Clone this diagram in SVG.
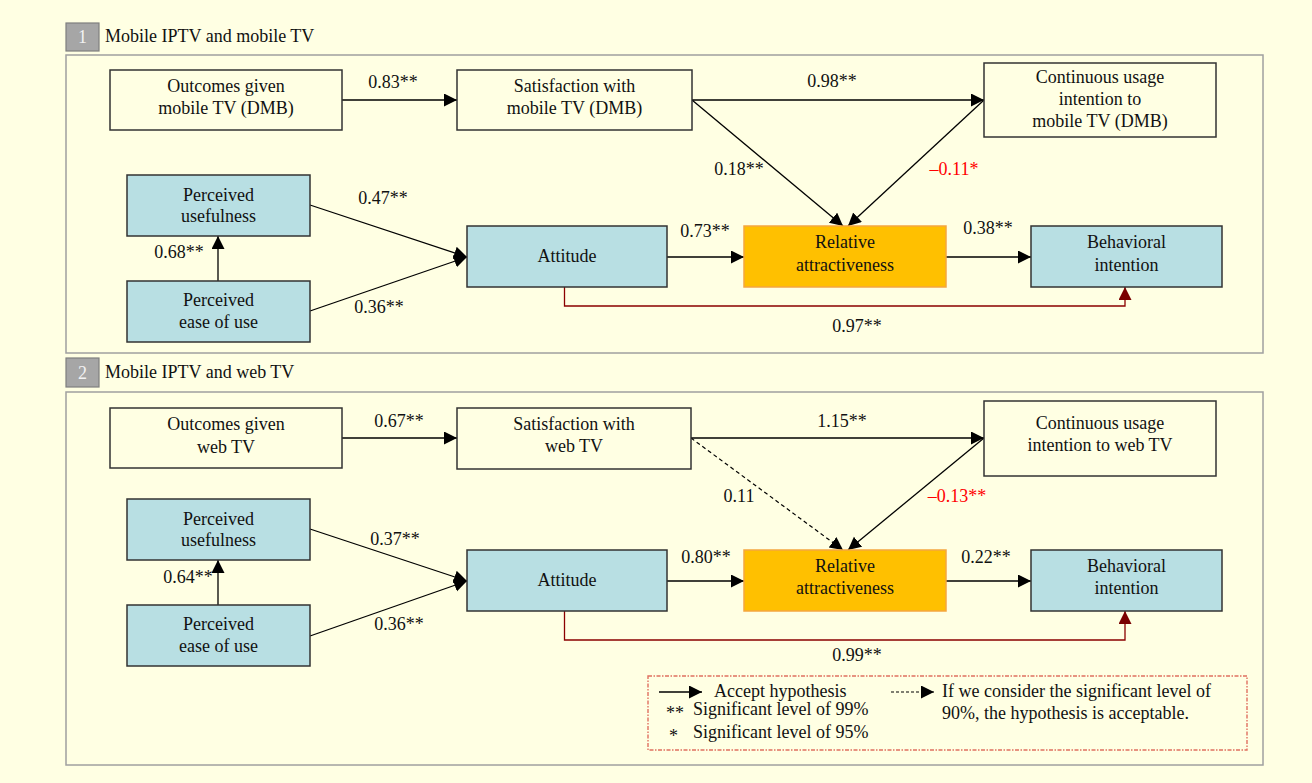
<svg xmlns="http://www.w3.org/2000/svg" width="1312" height="783" viewBox="0 0 1312 783">
<style>
text{font-family:"Liberation Serif","Times New Roman",serif;font-size:18px;fill:#111}
.c{text-anchor:middle}
.red{fill:#FF0000}
.panel{fill:none;stroke:#A0A0A0;stroke-width:1.5}
.tag{fill:#A6A6A6;stroke:#7F7F7F;stroke-width:1.2}
.tagt{fill:#F2F2F2;text-anchor:middle}
.w{fill:#FFFFE3;stroke:#333;stroke-width:1.5}
.b{fill:#B8DFE3;stroke:#333;stroke-width:1.5}
.o{fill:#FFC000;stroke:#F5A640;stroke-width:1.5}
.e{fill:none;stroke:#000;stroke-width:1.3;marker-end:url(#ah)}
.d{fill:none;stroke:#000;stroke-width:1.2;stroke-dasharray:4,3;marker-end:url(#ah)}
.r{fill:none;stroke:#8B0000;stroke-width:1.3;marker-end:url(#ahr)}
</style>
<defs>
<marker id="ah" markerUnits="userSpaceOnUse" markerWidth="14" markerHeight="14" refX="13" refY="6.5" orient="auto"><path d="M0,0 L13,6.5 L0,13 z" fill="#000"/></marker>
<marker id="ahr" markerUnits="userSpaceOnUse" markerWidth="14" markerHeight="14" refX="13" refY="6.5" orient="auto"><path d="M0,0 L13,6.5 L0,13 z" fill="#7A0000"/></marker>
</defs>
<rect x="0" y="0" width="1312" height="783" fill="#FFFFE3"/>

<g id="panel1">
<rect class="tag" x="66" y="23" width="33" height="28"/>
<text class="tagt" x="82.5" y="43">1</text>
<text x="105" y="42">Mobile IPTV and mobile TV</text>
<rect class="panel" x="66" y="55" width="1197" height="298"/>
</g>
<g id="panel2">
<rect class="tag" x="66" y="358" width="33" height="29"/>
<text class="tagt" x="82.5" y="379">2</text>
<text x="105" y="378">Mobile IPTV and web TV</text>
<rect class="panel" x="66" y="392" width="1197" height="373"/>
</g>

<g id="connectors">
<!-- panel 1 -->
<line class="e" x1="342" y1="100" x2="457" y2="100"/>
<line class="e" x1="692" y1="100" x2="984" y2="100"/>
<line class="e" x1="692" y1="100" x2="843" y2="226"/>
<line class="e" x1="984" y1="100" x2="848" y2="226"/>
<line class="e" x1="310" y1="205" x2="467" y2="257"/>
<line class="e" x1="310" y1="311" x2="467" y2="257"/>
<line class="e" x1="218" y1="281" x2="218" y2="236"/>
<line class="e" x1="667" y1="257" x2="744" y2="257"/>
<line class="e" x1="946" y1="257" x2="1031" y2="257"/>
<polyline class="r" points="564.5,287 564.5,306 1125,306 1125,287"/>
<!-- panel 2 -->
<line class="e" x1="342" y1="438" x2="457" y2="438"/>
<line class="e" x1="691" y1="438" x2="984" y2="438"/>
<line class="d" x1="691" y1="438" x2="843" y2="550"/>
<line class="e" x1="984" y1="438" x2="848" y2="550"/>
<line class="e" x1="310" y1="529" x2="467" y2="581"/>
<line class="e" x1="310" y1="636" x2="467" y2="581"/>
<line class="e" x1="218" y1="605" x2="218" y2="560"/>
<line class="e" x1="667" y1="581" x2="744" y2="581"/>
<line class="e" x1="946" y1="581" x2="1031" y2="581"/>
<polyline class="r" points="564.5,611 564.5,640 1125,640 1125,611"/>
</g>

<g id="labels">
<text class="c" x="393" y="88">0.83**</text>
<text class="c" x="832" y="87">0.98**</text>
<text class="c" x="739" y="175">0.18**</text>
<text class="c red" x="954" y="175">–0.11*</text>
<text class="c" x="383" y="204">0.47**</text>
<text class="c" x="379" y="313">0.36**</text>
<text class="c" x="179" y="258">0.68**</text>
<text class="c" x="705" y="237">0.73**</text>
<text class="c" x="988" y="234">0.38**</text>
<text class="c" x="857" y="332">0.97**</text>

<text class="c" x="399" y="427">0.67**</text>
<text class="c" x="842" y="427">1.15**</text>
<text class="c" x="739" y="502">0.11</text>
<text class="c red" x="957" y="502">–0.13**</text>
<text class="c" x="395" y="545">0.37**</text>
<text class="c" x="399" y="630">0.36**</text>
<text class="c" x="188" y="583">0.64**</text>
<text class="c" x="706" y="563">0.80**</text>
<text class="c" x="986" y="563">0.22**</text>
<text class="c" x="857" y="661">0.99**</text>
</g>

<!-- panel 1 nodes -->
<g id="p1-outcomes"><rect class="w" x="110" y="70" width="232" height="60"/><text class="c" x="226" y="92">Outcomes given</text><text class="c" x="226" y="114">mobile TV (DMB)</text></g>
<g id="p1-satisfaction"><rect class="w" x="457" y="70" width="235" height="60"/><text class="c" x="574.5" y="92">Satisfaction with</text><text class="c" x="574.5" y="114">mobile TV (DMB)</text></g>
<g id="p1-continuous"><rect class="w" x="984" y="63" width="232" height="74"/><text class="c" x="1100" y="83">Continuous usage</text><text class="c" x="1100" y="105">intention to</text><text class="c" x="1100" y="127">mobile TV (DMB)</text></g>
<g id="p1-pu"><rect class="b" x="127" y="175" width="183" height="61"/><text class="c" x="218.5" y="201">Perceived</text><text class="c" x="218.5" y="222">usefulness</text></g>
<g id="p1-peou"><rect class="b" x="127" y="281" width="183" height="61"/><text class="c" x="218.5" y="306">Perceived</text><text class="c" x="218.5" y="328">ease of use</text></g>
<g id="p1-attitude"><rect class="b" x="467" y="226" width="200" height="61"/><text class="c" x="567" y="262">Attitude</text></g>
<g id="p1-ra"><rect class="o" x="744" y="226" width="202" height="61"/><text class="c" x="845" y="248">Relative</text><text class="c" x="845" y="271">attractiveness</text></g>
<g id="p1-bi"><rect class="b" x="1031" y="226" width="191" height="61"/><text class="c" x="1126.5" y="248">Behavioral</text><text class="c" x="1126.5" y="271">intention</text></g>

<!-- panel 2 nodes -->
<g id="p2-outcomes"><rect class="w" x="110" y="408" width="232" height="60"/><text class="c" x="226" y="430">Outcomes given</text><text class="c" x="226" y="453">web TV</text></g>
<g id="p2-satisfaction"><rect class="w" x="457" y="408" width="234" height="61"/><text class="c" x="574" y="430">Satisfaction with</text><text class="c" x="574" y="452">web TV</text></g>
<g id="p2-continuous"><rect class="w" x="984" y="401" width="232" height="75"/><text class="c" x="1100" y="429">Continuous usage</text><text class="c" x="1100" y="451">intention to web TV</text></g>
<g id="p2-pu"><rect class="b" x="127" y="499" width="183" height="61"/><text class="c" x="218.5" y="525">Perceived</text><text class="c" x="218.5" y="546">usefulness</text></g>
<g id="p2-peou"><rect class="b" x="127" y="605" width="183" height="61"/><text class="c" x="218.5" y="630">Perceived</text><text class="c" x="218.5" y="652">ease of use</text></g>
<g id="p2-attitude"><rect class="b" x="467" y="550" width="200" height="61"/><text class="c" x="567" y="586">Attitude</text></g>
<g id="p2-ra"><rect class="o" x="744" y="550" width="202" height="61"/><text class="c" x="845" y="572">Relative</text><text class="c" x="845" y="594">attractiveness</text></g>
<g id="p2-bi"><rect class="b" x="1031" y="550" width="191" height="61"/><text class="c" x="1126.5" y="572">Behavioral</text><text class="c" x="1126.5" y="594">intention</text></g>

<g id="legend">
<rect x="648" y="676" width="599" height="74" fill="none" stroke="#E07060" stroke-width="1.4" stroke-dasharray="4,1.5,1.5,1.5"/>
<line class="e" x1="659" y1="692" x2="702" y2="692"/>
<text x="714" y="697">Accept hypothesis</text>
<text x="666" y="719">**</text>
<text x="693" y="715">Significant level of 99%</text>
<text x="669" y="742">*</text>
<text x="693" y="738">Significant level of 95%</text>
<line class="d" x1="891" y1="692" x2="934" y2="692" style="stroke-dasharray:3,2"/>
<text x="942" y="697">If we consider the significant level of</text>
<text x="942" y="719">90%, the hypothesis is acceptable.</text>
</g>
</svg>
